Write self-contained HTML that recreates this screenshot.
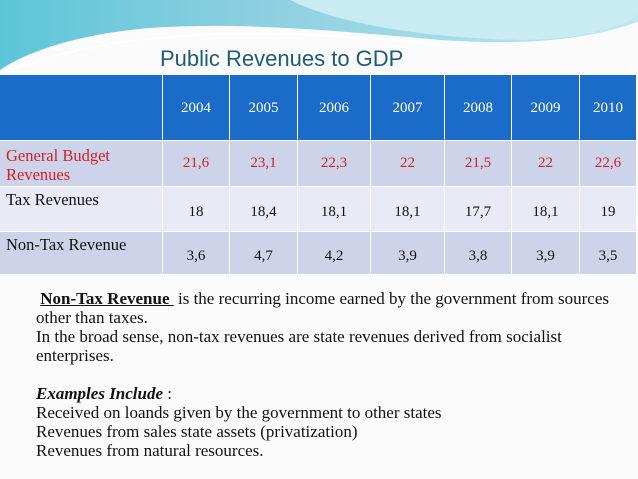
<!DOCTYPE html>
<html><head><meta charset="utf-8"><style>
body{margin:0;width:638px;height:479px;overflow:hidden;background:#fbfbfb;position:relative;font-family:"Liberation Serif",serif}
.c{position:absolute;box-sizing:border-box;font-size:15px;color:#111;text-align:center;border-right:1.5px solid #fff;border-bottom:1.5px solid #fff}
.hd{background:#1a6cc8;color:#fff;line-height:66px}
.a{background:#cdd4e9}.b{background:#e8ebf5}
.lab{text-align:left;padding:5px 6px 0 6px;line-height:19px;font-size:16.5px}
.txt{position:absolute;left:36px;top:289px;font-size:17px;line-height:19px;color:#111}
</style></head><body>
<svg width="638" height="80" style="position:absolute;left:0;top:0">
<defs><linearGradient id="g" x1="0" y1="0" x2="1" y2="0"><stop offset="0" stop-color="#5cc6d8"/><stop offset="0.4" stop-color="#8ccfe0"/><stop offset="1" stop-color="#bfe8f0"/></linearGradient></defs>
<path d="M0 0H638V22C580 42 520 45 440 40C330 30 240 22 150 28C80 34 30 50 0 70Z" fill="url(#g)"/>
<path d="M290 0C340 25 430 38 520 40C580 40 620 28 638 15V0Z" fill="#c8ecf2"/>
<path d="M5 72C110 30 260 25 440 45" stroke="#fff" stroke-width="2" fill="none"/>
</svg>
<div style="position:absolute;left:160px;top:46px;font-family:'Liberation Sans',sans-serif;font-size:22px;color:#1f5a78">Public Revenues to GDP</div>
<div id="tbl"></div>
<div class="txt">
&nbsp;<b><u>Non-Tax Revenue&nbsp;</u></b> is the recurring income earned by the government from sources<br>other than taxes.<br>In the broad sense, non-tax revenues are state revenues derived from socialist<br>enterprises.<br><br><b><i>Examples Include</i></b> :<br>Received on loands given by the government to other states<br>Revenues from sales state assets (privatization)<br>Revenues from natural resources.
</div>
<script>
const years=['2004','2005','2006','2007','2008','2009','2010'];
const labels=['General Budget Revenues','Tax Revenues','Non-Tax Revenue'];
const general=['21,6','23,1','22,3','22','21,5','22','22,6'];
const tax=['18','18,4','18,1','18,1','17,7','18,1','19'];
const nontax=['3,6','4,7','4,2','3,9','3,8','3,9','3,5'];
const xs=[0,163,230,298,371,445,512,580,637];
const ys=[75,141,187,232,275];
const rows=[general,tax,nontax];
const tbl=document.getElementById('tbl');
function cell(x0,x1,y0,y1,cls,txt,name){
  const d=document.createElement('div');
  d.className='c '+cls;
  d.style.left=x0+'px';d.style.top=y0+'px';d.style.width=(x1-x0)+'px';d.style.height=(y1-y0)+'px';
  d.innerHTML=txt;
  
  
  tbl.appendChild(d);return d;
}
cell(xs[0],xs[1],ys[0],ys[1],'hd','','header-corner');
years.forEach((y,i)=>cell(xs[i+1],xs[i+2],ys[0],ys[1],'hd',y,'year-'+y));
rows.forEach((r,j)=>{
  const bg=j==1?'b':'a';
  const lab=cell(xs[0],xs[1],ys[j+1],ys[j+2],bg+' lab',j==0?'General Budget<br>Revenues':labels[j],'row-label-'+j);
  if(j==0)lab.style.color='#d0202c';
  if(j>0)lab.style.paddingTop='3px';
  r.forEach((v,i)=>{
    const d=cell(xs[i+1],xs[i+2],ys[j+1],ys[j+2],bg,v,'value-'+j+'-'+years[i]);
    d.style.lineHeight=(j==0?(ys[j+2]-ys[j+1]-2):(ys[j+2]-ys[j+1]+6))+'px';
    if(j==0)d.style.color='#d0202c';
  });
});
</script>
</body></html>
